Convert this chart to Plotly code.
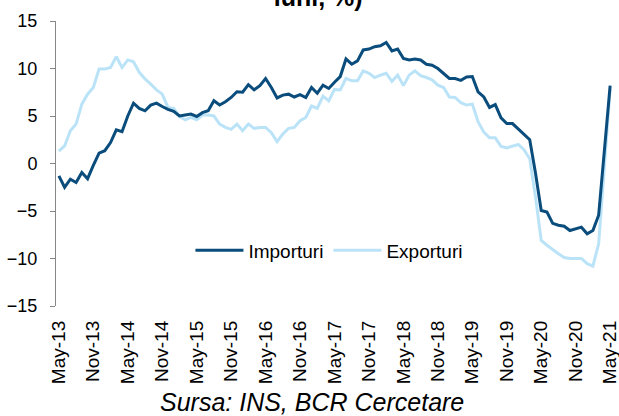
import pandas as pd
import plotly.graph_objects as go

# comert exterior, medie mobila 12 luni (%), lunar mai 2013 - mai 2021
luni = pd.date_range("2013-05-01", "2021-05-01", freq="MS").strftime("%b-%y").tolist()

importuri = [
    -1.3, -2.5, -1.65, -2.0, -0.95, -1.6, -0.2, 1.1, 1.35, 2.2, 3.55, 3.35,
    5.0, 6.35, 5.8, 5.55, 6.15, 6.35, 6.0, 5.7, 5.5, 5.0, 5.1, 5.2,
    4.95, 5.35, 5.55, 6.6, 6.15, 6.5, 6.95, 7.55, 7.5, 8.3, 7.75, 8.2,
    8.95, 8.0, 6.9, 7.2, 7.3, 7.0, 7.25, 6.95, 8.0, 7.4, 8.25, 7.9,
    8.55, 9.15, 11.0, 10.45, 10.8, 11.95, 12.05, 12.3, 12.4, 12.75, 11.85, 12.05,
    11.05, 10.9, 11.0, 10.9, 10.45, 10.35, 10.0, 9.45, 8.95, 8.95, 8.75, 9.1,
    9.15, 7.55, 7.0, 5.9, 6.2, 4.8, 4.2, 4.2, 3.6, 3.05, 2.5, -1.0,
    -4.95, -5.1, -6.3, -6.5, -6.6, -7.05, -6.9, -6.7, -7.4, -7.05, -5.45, 1.8,
    8.2,
]

exporturi = [
    1.3, 1.85, 3.45, 4.15, 6.25, 7.3, 8.0, 9.95, 9.95, 10.1, 11.25, 10.1,
    10.9, 10.7, 9.6, 8.9, 8.35, 7.75, 7.3, 5.9, 5.8, 4.95, 4.6, 4.85,
    4.6, 5.1, 5.1, 5.0, 4.15, 3.8, 3.6, 4.15, 3.45, 4.15, 3.7, 3.8,
    3.8, 3.25, 2.3, 3.1, 3.7, 3.8, 4.5, 4.85, 6.05, 5.8, 7.1, 6.6,
    7.8, 7.75, 8.95, 8.7, 8.7, 9.75, 9.5, 9.05, 9.3, 9.5, 8.65, 9.3,
    8.2, 9.3, 9.75, 9.25, 9.05, 8.8, 8.25, 8.0, 7.0, 6.95, 6.4, 6.15,
    6.25, 4.4, 3.3, 2.7, 2.7, 1.8, 1.65, 1.8, 2.0, 1.45, 0.5, -3.5,
    -8.1, -8.6, -9.1, -9.5, -9.9, -10.0, -10.0, -10.0, -10.55, -10.8, -8.45, 0.0,
    7.85,
]

etichete = ["May-13", "Nov-13", "May-14", "Nov-14", "May-15", "Nov-15", "May-16",
            "Nov-16", "May-17", "Nov-17", "May-18", "Nov-18", "May-19", "Nov-19",
            "May-20", "Nov-20", "May-21"]

y_min, y_max = -15, 15
gris = "#878787"
font = "Liberation Sans, Arial, sans-serif"

fig = go.Figure()

# exporturile primele ca importurile sa stea deasupra
fig.add_trace(go.Scatter(x=luni, y=exporturi, mode="lines", name="Exporturi",
                         line=dict(color="#BBE3F8", width=3)))
fig.add_trace(go.Scatter(x=luni, y=importuri, mode="lines", name="Importuri",
                         line=dict(color="#0A4D7C", width=3)))

n = len(luni)

fig.update_layout(
    width=619, height=416,
    margin=dict(l=56, r=6, t=21, b=110),
    paper_bgcolor="white", plot_bgcolor="white",
    font=dict(family=font, color="black"),
    showlegend=True,
    legend=dict(orientation="h", x=0.49, xanchor="center", y=0.195, yanchor="middle",
                traceorder="reversed", font=dict(size=19), bgcolor="rgba(0,0,0,0)",
                itemwidth=48),
    xaxis=dict(type="category", range=[-0.5, n - 0.5],
               tickmode="array", tickvals=etichete, tickangle=-90,
               tickfont=dict(size=19), showline=False, ticks="", showgrid=False,
               zeroline=False, ticklabelstandoff=10, automargin=False),
    # axa de la zero, cu liniutele intre luni
    xaxis2=dict(overlaying="x", anchor="free",
                position=(0 - y_min) / (y_max - y_min),
                range=[-0.5, n - 0.5], tickmode="array",
                tickvals=[i - 0.5 for i in range(0, n, 6)],
                showticklabels=False, ticks="outside", ticklen=5, tickcolor=gris,
                showline=True, linecolor=gris, linewidth=1, showgrid=False,
                zeroline=False),
    yaxis=dict(range=[y_min, y_max], dtick=5, ticks="outside", ticklen=5,
               tickcolor=gris, showline=True, linecolor=gris, linewidth=1,
               showgrid=False, zeroline=False, tickfont=dict(size=18),
               ticklabelstandoff=9, automargin=False),
)

# titlul e taiat sus in original, se vede doar a doua linie
fig.add_annotation(text="<b>Evoluția comerțului exterior (medie mobilă 12<br>luni, %)</b>",
                   xref="paper", yref="paper", x=0.47, y=1 + (21 - 13) / 285,
                   xanchor="center", yanchor="bottom", showarrow=False,
                   font=dict(size=25, color="black"))

fig.add_annotation(text="<i>Sursa: INS, BCR Cercetare</i>", xref="paper", yref="paper",
                   x=0.46, y=-(402 - 306) / 285, xanchor="center", yanchor="middle",
                   showarrow=False, font=dict(size=25, color="black"))

fig.write_html("out.html", config={"displayModeBar": False},
               post_script="document.body.style.margin='0';")
